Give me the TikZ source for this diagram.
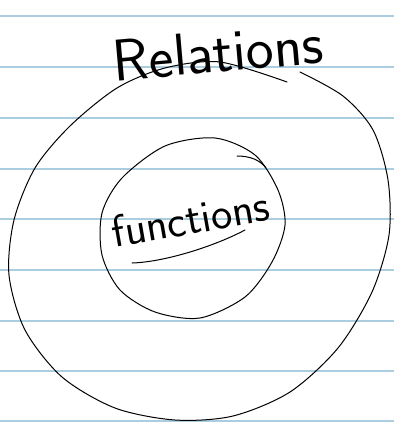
\documentclass[tikz,border=0pt]{standalone}
\usepackage{tikz}
\usetikzlibrary{positioning}
\definecolor{ruleBlue}{RGB}{170,206,224}

\begin{document}
\begin{tikzpicture}[x=1pt,y=-1pt,
  ink/.style={line width=1pt,line cap=round,line join=round},
  rule/.style={ruleBlue,line width=1.6pt},
  hand/.style={font=\sffamily\fontsize{59}{59}\selectfont,inner sep=0pt,anchor=base}
]
\useasboundingbox (0,0) rectangle (394,422);
% ruled paper
\foreach \y in {16,67,118,169,219,270,321,371,421}
  \draw[rule] (0,\y) -- (394,\y);

% outer set
\draw[ink] plot[smooth] coordinates {(300,72) (343,96) (373,130) (388,180) (389,235)
  (372,292) (338,348) (290,392) (233,416) (175,420) (115,408) (62,377) (25,330)
  (9,275) (14,220) (35,168) (70,126) (117,88) (165,68) (220,62) (287,82)};
\node[hand,rotate=5] (rel) at (220,72) {Relations};

% inner set
\draw[ink] plot[smooth cycle] coordinates {(215,138) (255,155) (278,190) (285,225)
  (272,262) (245,297) (200,318) (155,312) (120,290) (102,255) (102,213) (122,178)
  (165,146)};
\draw[ink] (237,156) .. controls (250,156) and (260,160) .. (266,168);
\node[hand,font=\sffamily\fontsize{45}{45}\selectfont,rotate=10] (fn) at (193,234) {functions};
\draw[ink] (132,263) .. controls (165,262) and (215,246) .. (245,230);
\end{tikzpicture}
\end{document}
